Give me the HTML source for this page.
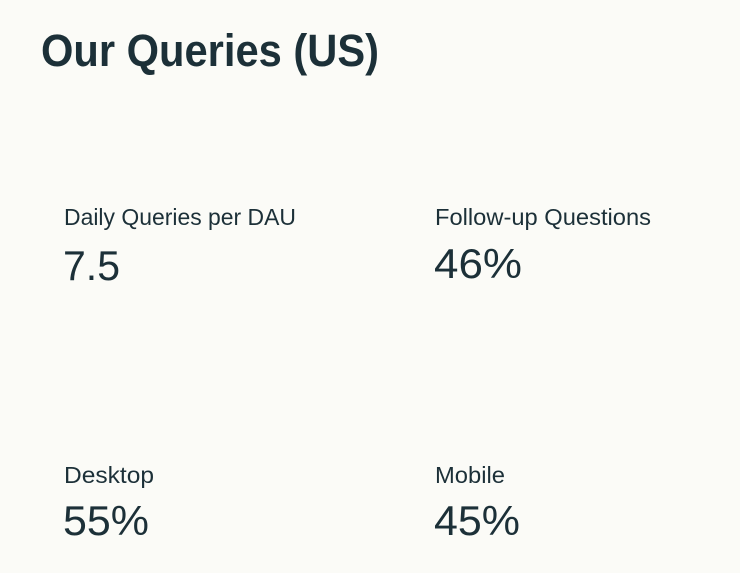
<!DOCTYPE html>
<html><head><meta charset="utf-8"><style>
html,body{margin:0;padding:0;background:#fbfbf7;}
svg{display:block}
text{font-family:"Liberation Sans",sans-serif;fill:#1c3038}
</style></head><body>
<svg width="740" height="573" viewBox="0 0 740 573">
<rect width="740" height="573" fill="#fbfbf7"/>
<text x="41" y="66" font-size="45" font-weight="bold" textLength="338" lengthAdjust="spacingAndGlyphs">Our Queries (US)</text>
<text x="64" y="225" font-size="23" textLength="232" lengthAdjust="spacingAndGlyphs">Daily Queries per DAU</text>
<text x="63" y="280" font-size="42" textLength="57" lengthAdjust="spacingAndGlyphs">7.5</text>
<text x="435" y="225" font-size="23" textLength="216" lengthAdjust="spacingAndGlyphs">Follow-up Questions</text>
<text x="434" y="278" font-size="42" textLength="88" lengthAdjust="spacingAndGlyphs">46%</text>
<text x="64" y="483" font-size="23" textLength="90" lengthAdjust="spacingAndGlyphs">Desktop</text>
<text x="63" y="535" font-size="42" textLength="86" lengthAdjust="spacingAndGlyphs">55%</text>
<text x="435" y="483" font-size="23" textLength="70" lengthAdjust="spacingAndGlyphs">Mobile</text>
<text x="434" y="535" font-size="42" textLength="86" lengthAdjust="spacingAndGlyphs">45%</text>
</svg>
</body></html>
